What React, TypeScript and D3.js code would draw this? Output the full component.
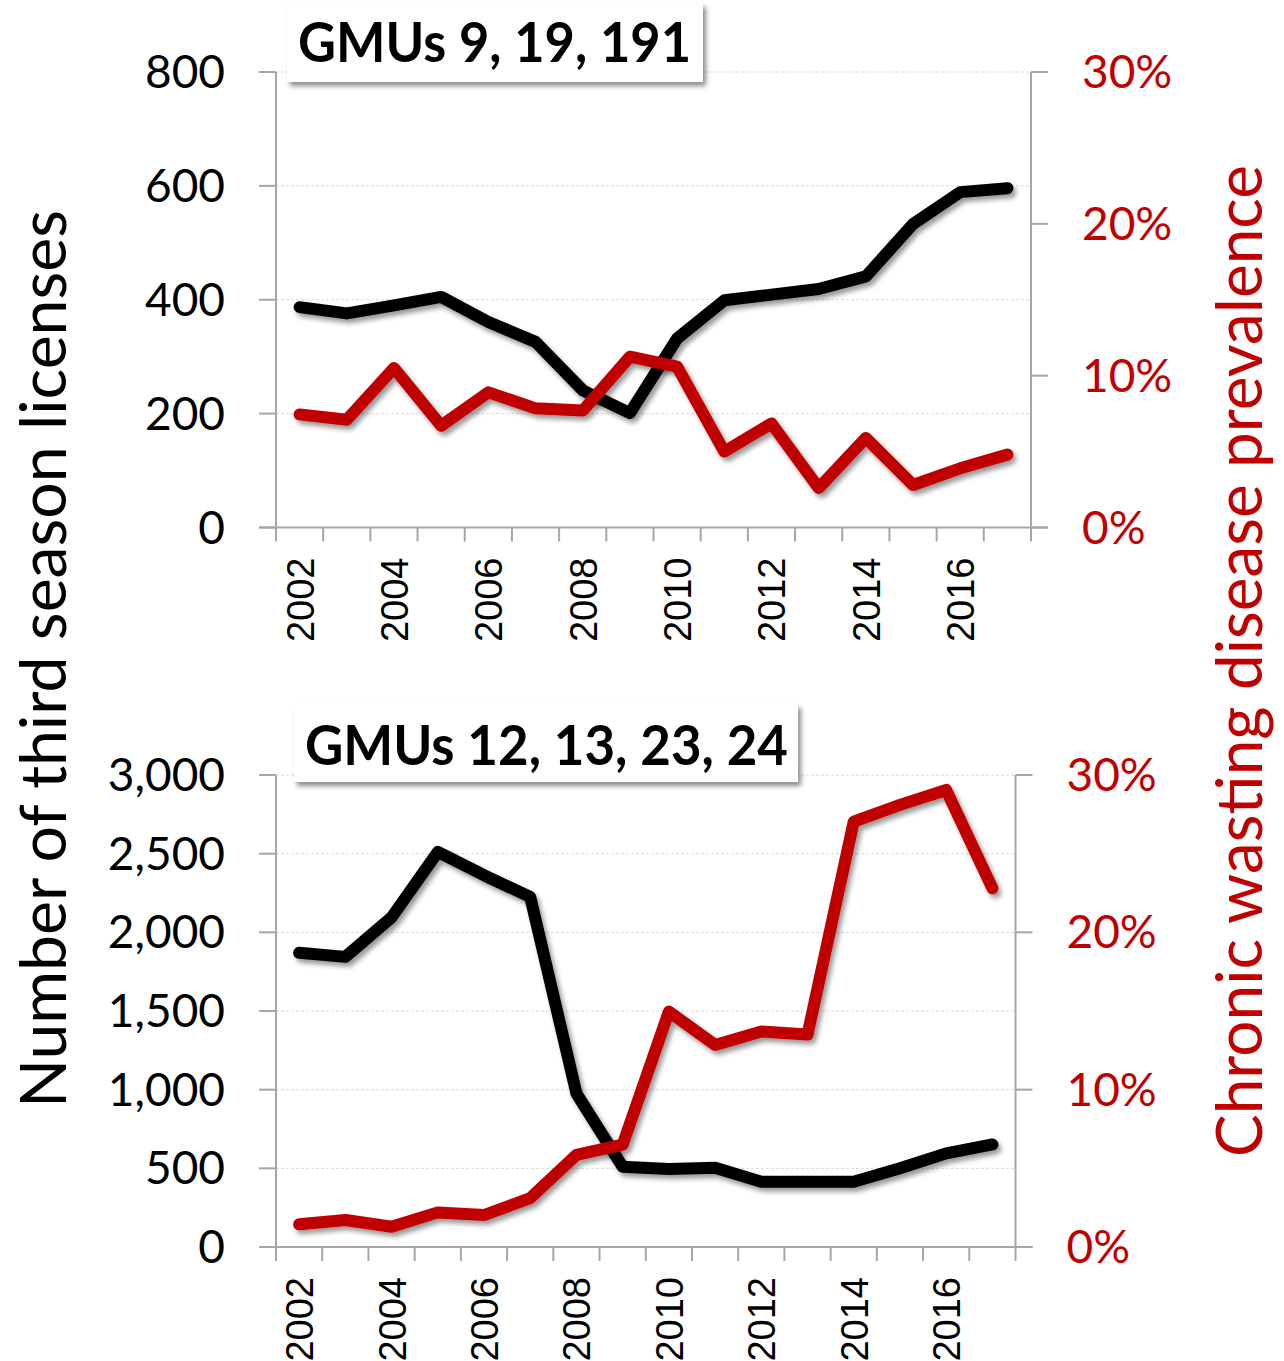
import React from "react";
import * as d3 from "d3";

const years = [2002, 2003, 2004, 2005, 2006, 2007, 2008, 2009, 2010, 2011, 2012, 2013, 2014, 2015, 2016, 2017];
const yearTickLabels = [2002, 2004, 2006, 2008, 2010, 2012, 2014, 2016];

// Panel A: GMUs 9, 19, 191
const licensesA = [387, 376, 390, 405, 361, 326, 241, 201, 332, 399, 409, 419, 441, 533, 589, 596];
const prevalenceA = [0.0745, 0.071, 0.105, 0.067, 0.089, 0.0785, 0.077, 0.1125, 0.106, 0.05, 0.0685, 0.026, 0.059, 0.028, 0.039, 0.048];
const leftTicksA = [0, 200, 400, 600, 800];

// Panel B: GMUs 12, 13, 23, 24
const licensesB = [1870, 1844, 2095, 2511, 2363, 2225, 976, 510, 496, 504, 415, 415, 415, 500, 595, 652];
const prevalenceB = [0.0144, 0.0172, 0.0129, 0.022, 0.0203, 0.031, 0.0585, 0.065, 0.1496, 0.1284, 0.137, 0.135, 0.2704, 0.281, 0.2905, 0.228];
const leftTicksB = [0, 500, 1000, 1500, 2000, 2500, 3000];

const rightTicks = [0, 0.1, 0.2, 0.3];

const titleA = "GMUs 9, 19, 191";
const titleB = "GMUs 12, 13, 23, 24";
const leftAxisTitle = "Number of third season licenses";
const rightAxisTitle = "Chronic wasting disease prevalence";

const RED = "#C00000";
const AXIS = "#a6a6a6";
const TICKFONT = "Lato, 'Open Sans', sans-serif";

type PanelProps = {
  x0: number; x1: number; yTop: number; yBot: number;
  leftMax: number; leftTicks: number[]; leftFmt: (v: number) => string;
  licenses: number[]; prevalence: number[];
  title: string; box: { x: number; y: number; w: number; h: number; tx: number; ty: number; tl: number };
};

function Panel(p: PanelProps) {
  const x = d3.scaleBand<number>().domain(years).range([p.x0, p.x1]);
  const cx = (yr: number) => (x(yr) as number) + x.bandwidth() / 2;
  const yL = d3.scaleLinear().domain([0, p.leftMax]).range([p.yBot, p.yTop]);
  const yR = d3.scaleLinear().domain([0, 0.3]).range([p.yBot, p.yTop]);
  const pctFmt = d3.format(".0%");

  const lineL = d3.line<number>().x((_, i) => cx(years[i])).y((d) => yL(d));
  const lineR = d3.line<number>().x((_, i) => cx(years[i])).y((d) => yR(d));

  const boundaries = d3.range(years.length + 1).map((i) => p.x0 + i * x.step());

  return (
    <g>
      {/* gridlines */}
      {p.leftTicks.filter((t) => t > 0).map((t) => (
        <line key={"g" + t} x1={p.x0} x2={p.x1} y1={yL(t)} y2={yL(t)} stroke="#d9d9d9" strokeWidth={1} strokeDasharray="3,2" />
      ))}
      {/* left axis */}
      <line x1={p.x0} x2={p.x0} y1={p.yTop} y2={p.yBot} stroke={AXIS} strokeWidth={2} />
      {p.leftTicks.map((t) => (
        <g key={"l" + t}>
          <line x1={p.x0 - 17} x2={p.x0} y1={yL(t)} y2={yL(t)} stroke={AXIS} strokeWidth={2} />
          <text x={p.x0 - 51} y={yL(t) + 16} textAnchor="end" fontFamily={TICKFONT} fontSize={46} fill="#000">{p.leftFmt(t)}</text>
        </g>
      ))}
      {/* right axis */}
      <line x1={p.x1} x2={p.x1} y1={p.yTop} y2={p.yBot} stroke={AXIS} strokeWidth={2} />
      {rightTicks.map((t) => (
        <g key={"r" + t}>
          <line x1={p.x1} x2={p.x1 + 17} y1={yR(t)} y2={yR(t)} stroke={AXIS} strokeWidth={2} />
          <text x={p.x1 + 51} y={yR(t) + 16} textAnchor="start" fontFamily={TICKFONT} fontSize={46} fill={RED}>{pctFmt(t)}</text>
        </g>
      ))}
      {/* x axis */}
      <line x1={p.x0 - 17} x2={p.x1 + 17} y1={p.yBot} y2={p.yBot} stroke={AXIS} strokeWidth={2} />
      {boundaries.map((bx, i) => (
        <line key={"xt" + i} x1={bx} x2={bx} y1={p.yBot} y2={p.yBot + 14} stroke={AXIS} strokeWidth={2} />
      ))}
      {yearTickLabels.map((yr) => (
        <text key={"yl" + yr} transform={`translate(${cx(yr) + 14},${p.yBot + 30}) rotate(-90)`} textAnchor="end"
          fontFamily="'Liberation Sans', Arial, sans-serif" fontSize={38} fill="#000">{yr}</text>
      ))}
      {/* lines */}
      <path d={lineL(p.licenses) || ""} fill="none" stroke="#000" strokeWidth={12} strokeLinecap="round" strokeLinejoin="round" filter="url(#shadow)" />
      <path d={lineR(p.prevalence) || ""} fill="none" stroke={RED} strokeWidth={12} strokeLinecap="round" strokeLinejoin="round" filter="url(#shadow)" />
      {/* title box */}
      <rect x={p.box.x} y={p.box.y} width={p.box.w} height={p.box.h} fill="#fff" filter="url(#boxshadow)" />
      <text x={p.box.tx} y={p.box.ty} fontFamily={TICKFONT} fontWeight="bold" fontSize={56} fill="#000"
        textLength={p.box.tl} lengthAdjust="spacingAndGlyphs">{p.title}</text>
    </g>
  );
}

export default function App() {
  return (
    <svg width={1284} height={1361} style={{ position: "absolute", left: 0, top: 0, background: "#fff" }}>
      <defs>
        <filter id="shadow" x="-10%" y="-10%" width="120%" height="130%">
          <feDropShadow dx={3} dy={4} stdDeviation={2.5} floodColor="#000" floodOpacity={0.4} />
        </filter>
        <filter id="boxshadow" x="-10%" y="-20%" width="120%" height="150%">
          <feDropShadow dx={3} dy={4} stdDeviation={2.5} floodColor="#000" floodOpacity={0.45} />
        </filter>
      </defs>
      <rect x={0} y={0} width={1284} height={1361} fill="#fff" />
      <Panel x0={276} x1={1031} yTop={72} yBot={527.5} leftMax={800} leftTicks={leftTicksA} leftFmt={d3.format("d")}
        licenses={licensesA} prevalence={prevalenceA} title={titleA}
        box={{ x: 287, y: 3, w: 416, h: 79, tx: 298, ty: 62, tl: 393 }} />
      <Panel x0={276} x1={1015.5} yTop={775} yBot={1247} leftMax={3000} leftTicks={leftTicksB} leftFmt={d3.format(",")}
        licenses={licensesB} prevalence={prevalenceB} title={titleB}
        box={{ x: 294, y: 704, w: 504, h: 78, tx: 305, ty: 765, tl: 483 }} />
      <text transform="translate(66,659) rotate(-90)" textAnchor="middle" fontFamily={TICKFONT} fontSize={63} fill="#000"
        textLength={898} lengthAdjust="spacingAndGlyphs">{leftAxisTitle}</text>
      <text transform="translate(1262,661) rotate(-90)" textAnchor="middle" fontFamily={TICKFONT} fontSize={63} fill={RED}
        textLength={992} lengthAdjust="spacingAndGlyphs">{rightAxisTitle}</text>
    </svg>
  );
}
